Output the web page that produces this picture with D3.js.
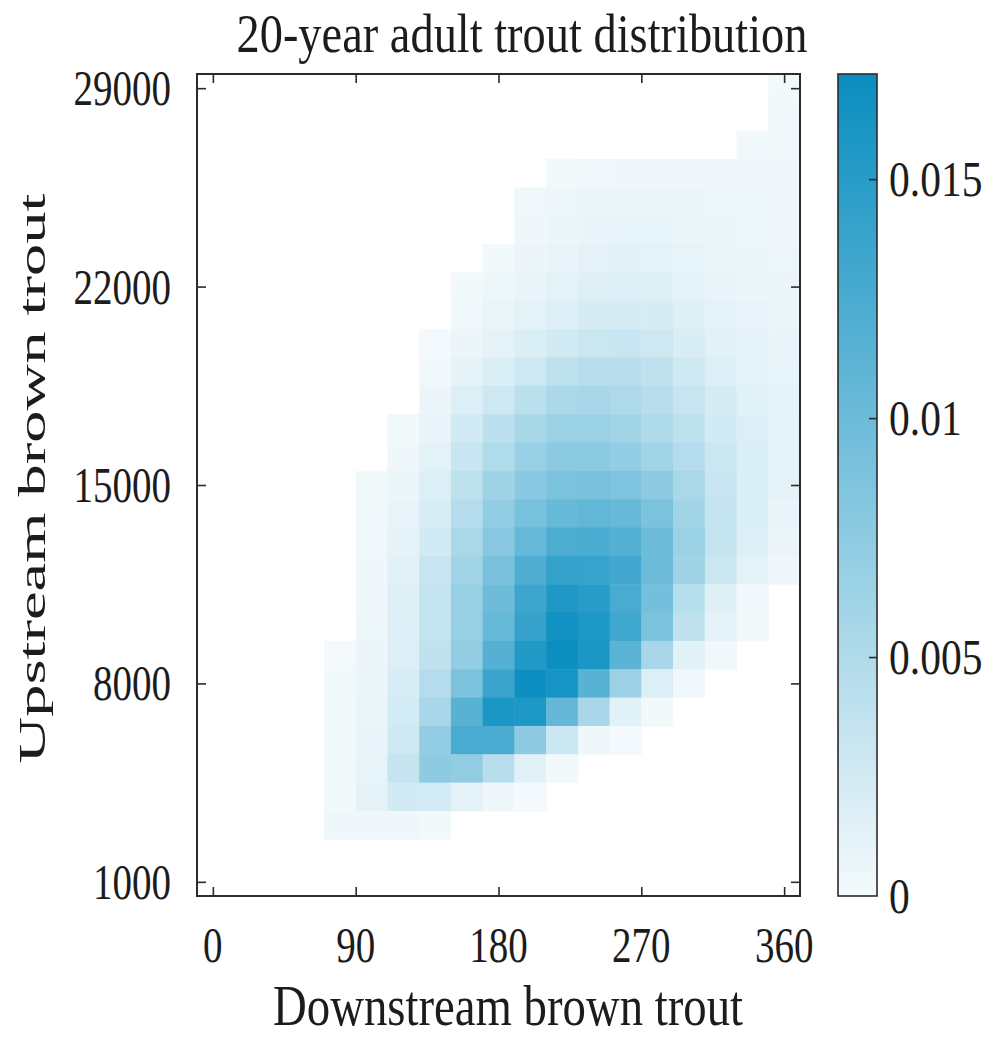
<!DOCTYPE html>
<html><head><meta charset="utf-8">
<script src="https://cdn.jsdelivr.net/npm/d3@7"></script>
<style>
body{margin:0;background:#fff}
text{font-family:"Liberation Serif","Times New Roman",serif;fill:#1c1c1c}
</style>
</head><body>
<svg id="chart" width="1006" height="1045"></svg>
<script>
// ---------------- data ----------------
const title = "20-year adult trout distribution";
const xLabel = "Downstream brown trout";
const yLabel = "Upstream brown trout";
const xTicks = [0, 90, 180, 270, 360];
const yTicks = [1000, 8000, 15000, 22000, 29000];
const cbTicks = [0, 0.005, 0.01, 0.015];
const cbTickLabels = ["0", "0.005", "0.01", "0.015"];
const xDomain = [-10, 370];
const yDomain = [500, 29500];
const colorMax = 0.0172;
const binWidth = 20;      // downstream bin width
const binHeight = 1000;   // upstream bin height
const valueUnit = 1e-4;   // density values below are in units of 1e-4
// bin centres
const xCenters = [80, 100, 120, 140, 160, 180, 200, 220, 240, 260, 280, 300, 320, 340, 360];
const yCenters = [29000, 28000, 27000, 26000, 25000, 24000, 23000, 22000, 21000, 20000,
                  19000, 18000, 17000, 16000, 15000, 14000, 13000, 12000, 11000, 10000,
                  9000, 8000, 7000, 6000, 5000, 4000, 3000];
const _ = null;
// one row per yCenter (top to bottom), one column per xCenter
const density = [
  [_,_,_,_,_,_,_,_,_,_,_,_,_,_,2],
  [_,_,_,_,_,_,_,_,_,_,_,_,_,_,3],
  [_,_,_,_,_,_,_,_,_,_,_,_,_,3,3],
  [_,_,_,_,_,_,_,2,3,4,4,4,4,4,4],
  [_,_,_,_,_,_,3,5,6,7,7,6,5,5,4],
  [_,_,_,_,_,_,4,7,9,10,10,8,6,5,4],
  [_,_,_,_,_,2,6,9,12,14,13,10,7,6,5],
  [_,_,_,_,2,5,9,13,16,17,16,12,9,7,6],
  [_,_,_,_,3,8,13,18,22,23,22,16,12,9,7],
  [_,_,_,1,6,12,19,26,31,32,28,20,14,11,9],
  [_,_,_,3,11,19,29,40,44,44,38,27,18,13,10],
  [_,_,_,6,17,29,42,53,55,52,44,33,22,15,11],
  [_,_,2,9,26,41,56,66,66,61,51,40,26,17,13],
  [_,_,4,13,32,50,67,77,77,72,60,47,30,19,13],
  [_,2,7,17,40,62,78,89,90,86,75,54,33,19,12],
  [_,3,9,21,47,71,91,104,107,104,89,60,35,19,9],
  [_,3,11,25,54,79,105,123,124,117,99,66,36,17,6],
  [_,4,14,32,61,90,122,141,139,130,101,62,31,13,4],
  [_,4,16,35,68,98,134,156,150,126,94,45,16,3,_],
  [_,5,17,37,68,104,140,166,158,132,88,38,11,2,_],
  [1,6,18,39,72,117,155,171,160,112,55,15,3,_,_],
  [2,7,21,47,89,137,170,163,115,65,18,3,_,_,_],
  [2,8,24,55,114,159,158,106,55,15,2,_,_,_,_],
  [2,9,27,71,126,125,75,30,4,1,_,_,_,_,_],
  [2,10,35,75,73,44,15,2,_,_,_,_,_,_,_],
  [2,11,25,24,11,4,1,_,_,_,_,_,_,_,_],
  [4,4,4,2,_,_,_,_,_,_,_,_,_,_,_]
];
const colorLow = "#f4fafc";
const colorHigh = "#0a8ec0";

// ---------------- layout ----------------
const svg = d3.select("#chart");
svg.append("rect").attr("width",1006).attr("height",1045).attr("fill","#fff");
const plot = {left:197, right:800, top:74, bottom:896};
const cb = {left:838, right:877};
const axisColor = "#2b2b2b";

const x = d3.scaleLinear().domain(xDomain).range([plot.left, plot.right]);
const y = d3.scaleLinear().domain(yDomain).range([plot.bottom, plot.top]);
const color = d3.scaleLinear().domain([0, colorMax]).range([colorLow, colorHigh]).clamp(true);

function squeeze(sel, factor){
  sel.each(function(){
    const w = this.getComputedTextLength();
    d3.select(this).attr("textLength", w*factor).attr("lengthAdjust","spacingAndGlyphs");
  });
}

// cells
const cells = [];
yCenters.forEach((yc,i)=>{
  xCenters.forEach((xc,j)=>{
    const v = density[i][j];
    if (v !== null) cells.push({xc, yc, v: v*valueUnit});
  });
});
svg.append("g").selectAll("rect").data(cells).join("rect")
  .attr("x", d=>x(d.xc-binWidth/2))
  .attr("y", d=>y(d.yc+binHeight/2))
  .attr("width", d=>x(d.xc+binWidth/2)-x(d.xc-binWidth/2)+0.5)
  .attr("height", d=>y(d.yc-binHeight/2)-y(d.yc+binHeight/2)+0.5)
  .attr("fill", d=>color(d.v));

// axes with inward ticks on all four sides
const tickLen = 9;
function styleAxis(g){
  g.select(".domain").remove();
  g.selectAll(".tick line").attr("stroke",axisColor).attr("stroke-width",1.6);
  g.selectAll(".tick text").remove();
}
svg.append("g").attr("transform",`translate(0,${plot.bottom})`)
  .call(d3.axisBottom(x).tickValues(xTicks).tickSize(-tickLen)).call(styleAxis);
svg.append("g").attr("transform",`translate(0,${plot.top})`)
  .call(d3.axisTop(x).tickValues(xTicks).tickSize(-tickLen)).call(styleAxis);
svg.append("g").attr("transform",`translate(${plot.left},0)`)
  .call(d3.axisLeft(y).tickValues(yTicks).tickSize(-tickLen)).call(styleAxis);
svg.append("g").attr("transform",`translate(${plot.right},0)`)
  .call(d3.axisRight(y).tickValues(yTicks).tickSize(-tickLen)).call(styleAxis);

svg.append("rect").attr("x",plot.left).attr("y",plot.top)
  .attr("width",plot.right-plot.left).attr("height",plot.bottom-plot.top)
  .attr("fill","none").attr("stroke",axisColor).attr("stroke-width",2);

// tick labels
const tickFont = 50;
svg.append("g").selectAll("text").data(xTicks).join("text")
  .attr("x", d=>x(d)).attr("y", 962).attr("text-anchor","middle")
  .attr("font-size", tickFont).text(d=>d).call(squeeze, 0.78);
svg.append("g").selectAll("text").data(yTicks).join("text")
  .attr("x", 171).attr("y", d=>y(d)+17).attr("text-anchor","end")
  .attr("font-size", tickFont).text(d=>d).call(squeeze, 0.78);

// title and axis labels
svg.append("text").attr("x",522).attr("y",52).attr("text-anchor","middle")
  .attr("font-size",54).attr("textLength",571).attr("lengthAdjust","spacingAndGlyphs").text(title);
svg.append("text").attr("x",508).attr("y",1025).attr("text-anchor","middle")
  .attr("font-size",56).attr("textLength",470).attr("lengthAdjust","spacingAndGlyphs").text(xLabel);
svg.append("text")
  .attr("transform",`translate(45,${(193+764)/2}) rotate(-90) scale(1,0.72)`)
  .attr("text-anchor","middle").attr("font-size",54)
  .attr("textLength",570).attr("lengthAdjust","spacingAndGlyphs").text(yLabel);

// colorbar
const cy = d3.scaleLinear().domain([0, colorMax]).range([plot.bottom, plot.top]);
const defs = svg.append("defs");
const grad = defs.append("linearGradient").attr("id","cbgrad")
  .attr("x1",0).attr("y1",1).attr("x2",0).attr("y2",0);
d3.range(0,1.0001,0.1).forEach(t=>{
  grad.append("stop").attr("offset",t).attr("stop-color",color(t*colorMax));
});
svg.append("rect").attr("x",cb.left).attr("y",plot.top)
  .attr("width",cb.right-cb.left).attr("height",plot.bottom-plot.top)
  .attr("fill","url(#cbgrad)").attr("stroke",axisColor).attr("stroke-width",1.6);
const cbAxis = svg.append("g").attr("transform",`translate(${cb.right},0)`)
  .call(d3.axisRight(cy).tickValues(cbTicks).tickSize(-8));
cbAxis.select(".domain").remove();
cbAxis.selectAll(".tick line").attr("stroke",axisColor).attr("stroke-width",1.6)
  .filter(d=>d===0).remove();
cbAxis.selectAll(".tick text").remove();
svg.append("g").selectAll("text").data(cbTicks).join("text")
  .attr("x", 889).attr("y", d=>cy(d)+17)
  .attr("font-size", tickFont).text((d,i)=>cbTickLabels[i]).call(squeeze, 0.83);
</script>
</body></html>
